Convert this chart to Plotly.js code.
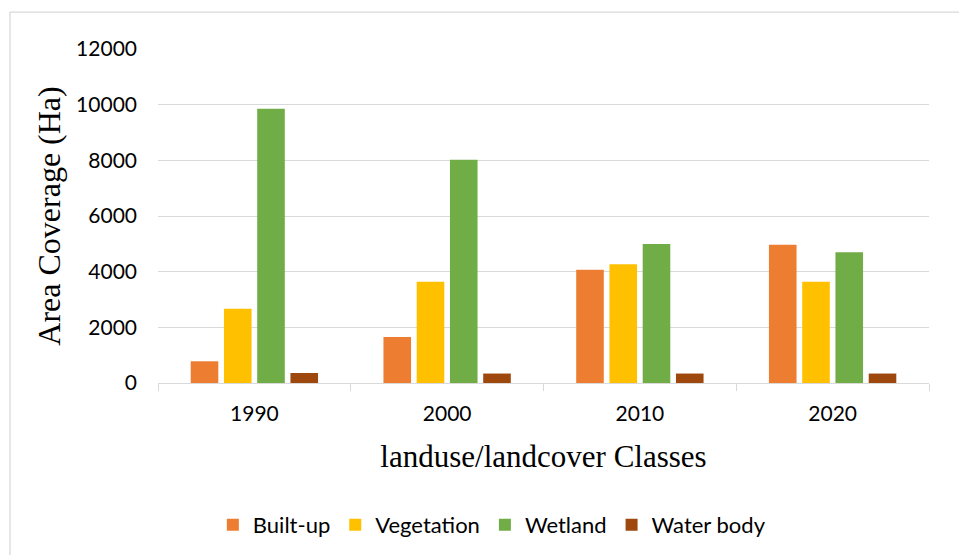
<!DOCTYPE html>
<html>
<head>
<meta charset="utf-8">
<script src="https://cdn.plot.ly/plotly-3.0.1.min.js"></script>
<style>html,body{margin:0;padding:0;background:#fff;}#chart{width:959px;height:555px;}</style>
</head>
<body>
<div id="chart"></div>
<script>
const years = ["1990", "2000", "2010", "2020"];
const builtUp = [780, 1650, 4070, 4970];
const vegetation = [2670, 3640, 4270, 3640];
const wetland = [9850, 8020, 4990, 4700];
const waterBody = [360, 340, 340, 340];
const seriesNames = ["Built-up", "Vegetation", "Wetland", "Water body"];
const seriesColors = ["#ED7D31", "#FFC000", "#70AD47", "#9E480E"];
const yTicks = [0, 2000, 4000, 6000, 8000, 10000, 12000];

const values = [builtUp, vegetation, wetland, waterBody];
const traces = values.map((v, i) => ({
  type: "bar",
  x: years,
  y: v,
  name: seriesNames[i],
  marker: {color: seriesColors[i], line: {width: 0}},
  hoverinfo: "x+y+name"
}));

const sans = "Lato, Carlito, 'Open Sans', sans-serif";
const tickFont = {family: sans, size: 21, color: "#000"};
const serif = "'Liberation Serif', 'Times New Roman', serif";
const layout = {
  width: 959,
  height: 555,
  margin: {l: 158, r: 30, t: 49, b: 171.7, pad: 0, autoexpand: false},
  paper_bgcolor: "#fff",
  plot_bgcolor: "#fff",
  barmode: "group",
  bargap: 0.31,
  bargroupgap: 0.17,
  showlegend: true,
  legend: {
    orientation: "h",
    x: 0.433, xanchor: "center",
    y: -0.425, yanchor: "middle",
    font: {family: sans, size: 22, color: "#000"},
    itemgap: 21,
    traceorder: "normal"
  },
  xaxis: {
    type: "category",
    tickfont: tickFont,
    showline: true,
    linecolor: "#d9d9d9",
    linewidth: 1,
    ticks: "outside",
    tickson: "boundaries",
    ticklen: 7,
    tickcolor: "#d9d9d9",
    ticklabelstandoff: 12,
    showgrid: false,
    zeroline: false,
    automargin: false,
    title: {text: "landuse/landcover Classes", font: {family: serif, size: 31, color: "#000"}, standoff: 21}
  },
  yaxis: {
    range: [0, 12000],
    tickvals: yTicks,
    ticktext: yTicks.map(String),
    tickfont: tickFont,
    showline: false,
    showgrid: true,
    gridcolor: "#d9d9d9",
    gridwidth: 1,
    zeroline: false,
    ticks: "",
    ticklabelstandoff: 20,
    automargin: false,
    title: {text: "Area Coverage (Ha)", font: {family: serif, size: 32, color: "#000"}, standoff: 5}
  },
  shapes: [
    {type: "line", xref: "paper", yref: "paper", x0: -0.192, x1: 1.04, y0: 1.1107, y1: 1.1107, line: {color: "#d9d9d9", width: 1.3}},
    {type: "line", xref: "paper", yref: "paper", x0: -0.192, x1: -0.192, y0: 1.1107, y1: -0.6, line: {color: "#d9d9d9", width: 1.3}}
  ]
};

Plotly.newPlot("chart", traces, layout, {displayModeBar: false, staticPlot: true});
</script>
</body>
</html>
